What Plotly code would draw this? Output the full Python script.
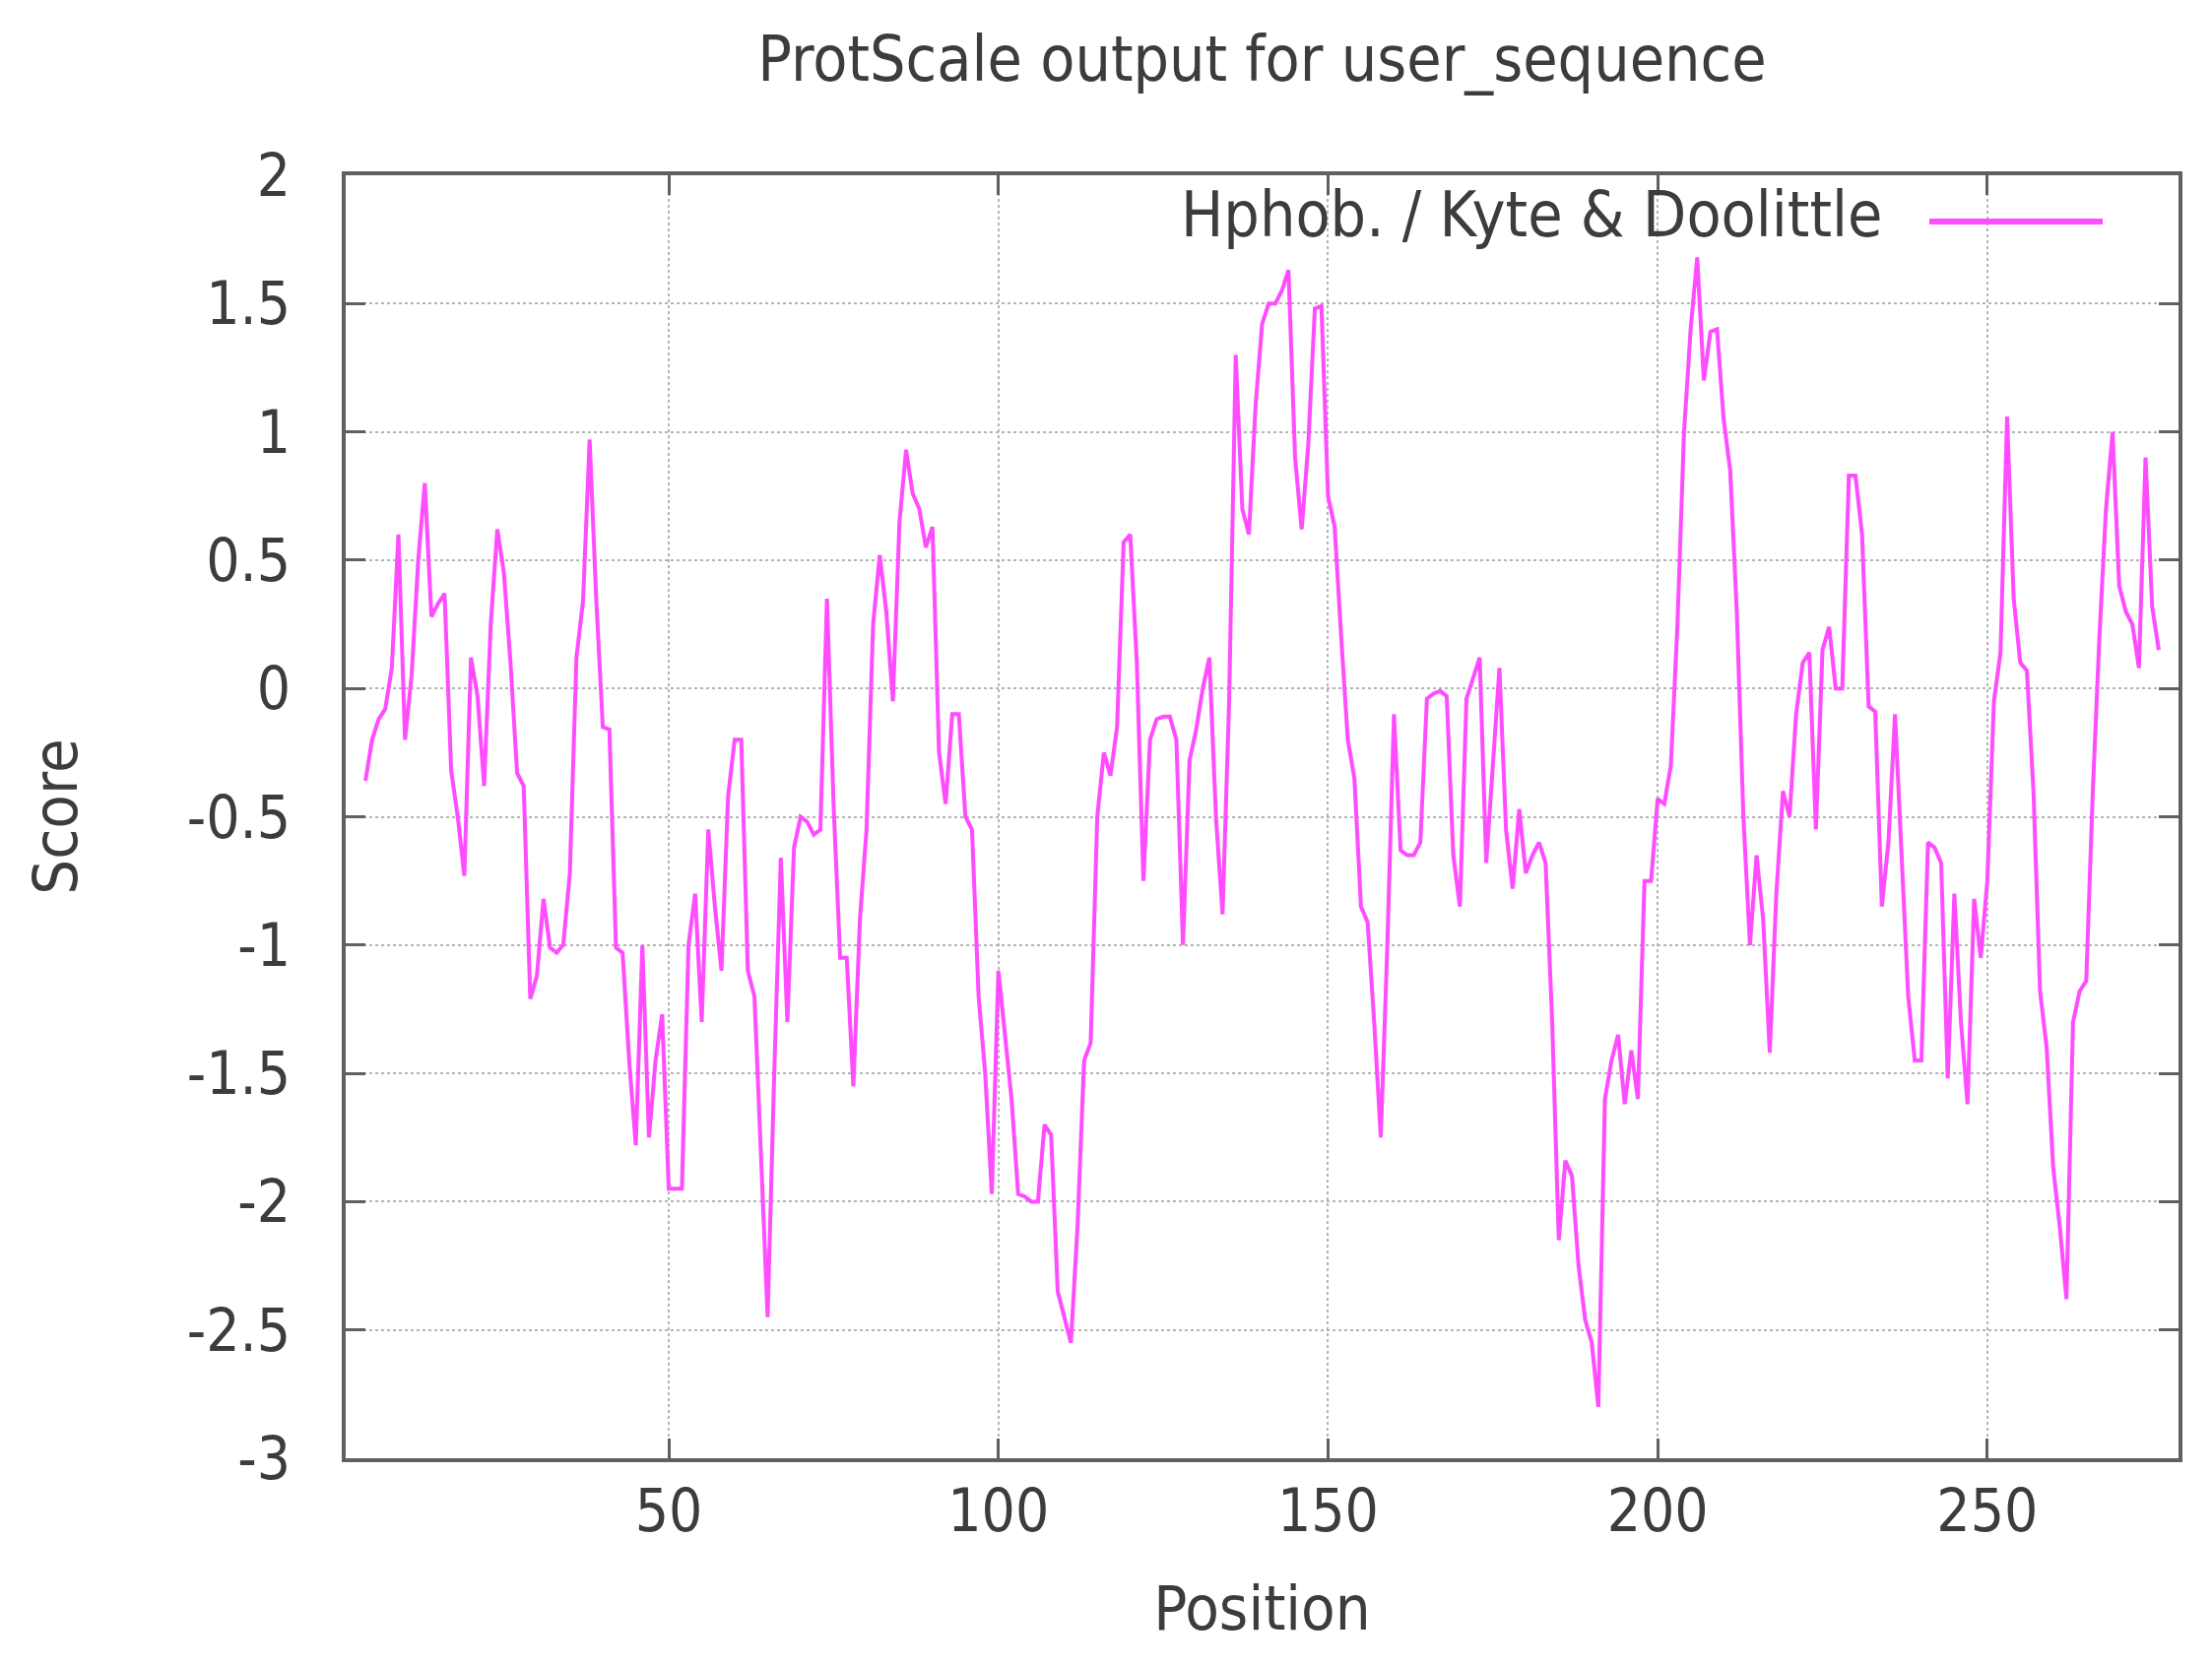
import plotly.graph_objects as go

# ---- data ----
positions = list(range(4, 277))
scores = [
    -0.36, -0.2, -0.12, -0.08, 0.08, 0.6, -0.2, 0.05, 0.5, 0.8,
    0.28, 0.33, 0.37, -0.32, -0.5, -0.73, 0.12, -0.03, -0.38, 0.25,
    0.62, 0.45, 0.1, -0.33, -0.38, -1.21, -1.12, -0.82, -1.01, -1.03,
    -1.0, -0.72, 0.12, 0.34, 0.97, 0.35, -0.15, -0.16, -1.01, -1.03,
    -1.45, -1.78, -1.0, -1.75, -1.45, -1.27, -1.95, -1.95, -1.95, -1.0,
    -0.8, -1.3, -0.55, -0.85, -1.1, -0.42, -0.2, -0.2, -1.1, -1.2,
    -1.8, -2.45, -1.5, -0.66, -1.3, -0.62, -0.5, -0.52, -0.57, -0.55,
    0.35, -0.45, -1.05, -1.05, -1.55, -0.9, -0.55, 0.25, 0.52, 0.3,
    -0.05, 0.65, 0.93, 0.76, 0.7, 0.55, 0.63, -0.25, -0.45, -0.1,
    -0.1, -0.5, -0.55, -1.2, -1.5, -1.97, -1.1, -1.35, -1.6, -1.97,
    -1.98, -2.0, -2.0, -1.7, -1.74, -2.35, -2.45, -2.55, -2.1, -1.45,
    -1.38, -0.5, -0.25, -0.34, -0.15, 0.57, 0.6, 0.1, -0.75, -0.2,
    -0.12, -0.11, -0.11, -0.2, -1.0, -0.28, -0.16, 0.0, 0.12, -0.5,
    -0.88, -0.05, 1.3, 0.7, 0.6, 1.1, 1.42, 1.5, 1.5, 1.55,
    1.63, 0.9, 0.62, 0.95, 1.48, 1.49, 0.75, 0.63, 0.2, -0.2,
    -0.35, -0.85, -0.91, -1.3, -1.75, -1.0, -0.1, -0.63, -0.65, -0.65,
    -0.6, -0.04, -0.02, -0.01, -0.03, -0.65, -0.85, -0.04, 0.04, 0.12,
    -0.68, -0.32, 0.08, -0.55, -0.78, -0.47, -0.72, -0.65, -0.6, -0.68,
    -1.3, -2.15, -1.84, -1.9, -2.25, -2.46, -2.55, -2.8, -1.6, -1.45,
    -1.35, -1.62, -1.41, -1.6, -0.75, -0.75, -0.43, -0.45, -0.3, 0.25,
    1.0, 1.4, 1.68, 1.2, 1.39, 1.4, 1.05, 0.85, 0.3, -0.5,
    -1.0, -0.65, -0.9, -1.42, -0.8, -0.4, -0.5, -0.1, 0.1, 0.14,
    -0.55, 0.15, 0.24, 0.0, 0.0, 0.83, 0.83, 0.6, -0.07, -0.09,
    -0.85, -0.6, -0.1, -0.65, -1.2, -1.45, -1.45, -0.6, -0.62, -0.68,
    -1.52, -0.8, -1.3, -1.62, -0.82, -1.05, -0.75, -0.05, 0.14, 1.06,
    0.35, 0.1, 0.07, -0.4, -1.18, -1.4, -1.87, -2.1, -2.38, -1.3,
    -1.18, -1.14, -0.4, 0.2, 0.7, 1.0, 0.4, 0.3, 0.25, 0.08,
    0.9, 0.32, 0.15,
]
x_ticks = [50, 100, 150, 200, 250]
y_ticks = [2, 1.5, 1, 0.5, 0, -0.5, -1, -1.5, -2, -2.5, -3]
y_tick_labels = ["2", "1.5", "1", "0.5", "0", "-0.5", "-1", "-1.5", "-2", "-2.5", "-3"]
series_name = "Hphob. / Kyte & Doolittle"
title_text = "ProtScale output for user_sequence"

# ---- styling ----
W, H = 2246, 1692
L, R, T, B = 343, 2204, 170, 1473
FONT = "DejaVu Sans Condensed, DejaVu Sans"
TXT = "#3c3c3c"
FRAME = "#606060"
LINE = "#ff4cff"

fig = go.Figure()
fig.add_trace(go.Scatter(x=positions, y=scores, mode="lines", name=series_name,
                         line=dict(color=LINE, width=4), showlegend=False))

axis_common = dict(
    showline=True, linecolor=FRAME, linewidth=4, mirror="allticks",
    ticks="inside", ticklen=20, tickwidth=3, tickcolor=FRAME,
    showgrid=True, gridcolor="#b4b4b4", griddash="dot", gridwidth=2,
    zeroline=False, tickfont=dict(family=FONT, size=60, color=TXT),
)

fig.update_layout(
    width=W, height=H,
    margin=dict(l=L, r=W - R, t=T, b=H - B),
    plot_bgcolor="white", paper_bgcolor="white",
    title=dict(text=title_text, x=0.5, xanchor="center", xref="paper",
               y=1 - 52 / H, yref="container", yanchor="middle",
               font=dict(family=FONT, size=64, color=TXT)),
    xaxis=dict(range=[1, 279], tickvals=x_ticks, ticklabelstandoff=-2,
               title=dict(text="Position", standoff=44,
                          font=dict(family=FONT, size=63, color=TXT)),
               **axis_common),
    yaxis=dict(range=[-3, 2], tickvals=y_ticks, ticktext=y_tick_labels,
               ticklabelstandoff=40,
               title=dict(text="Score", standoff=92,
                          font=dict(family=FONT, size=63, color=TXT)),
               **axis_common),
)

pw, ph = R - L, B - T
leg_y = (B - 210) / ph
fig.add_annotation(text=series_name, xref="paper", yref="paper",
                   x=(1905 - L) / pw, y=leg_y, xanchor="right", yanchor="middle",
                   showarrow=False, font=dict(family=FONT, size=64, color=TXT))
fig.add_shape(type="line", xref="paper", yref="paper",
              x0=(1951 - L) / pw, x1=(2127 - L) / pw, y0=(B - 217) / ph, y1=(B - 217) / ph,
              line=dict(color=LINE, width=6))

fig.write_html("out.html")
